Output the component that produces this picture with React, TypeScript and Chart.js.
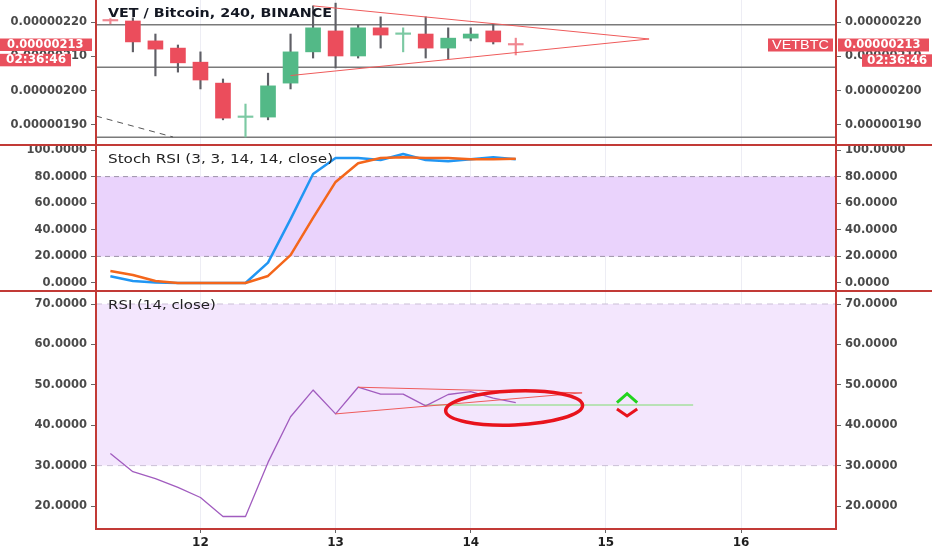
import React, { useEffect, useRef } from 'react';
import { Chart, registerables } from 'chart.js';

Chart.register(...registerables);

// ---------------- data ----------------
// x axis: day of month (240-minute candles)
const X_MIN = 11.227;
const X_MAX = 16.703;
const dayTicks = [12, 13, 14, 15, 16];

const candleTimes = [
  11.3333, 11.5, 11.6667, 11.8333, 12.0, 12.1667, 12.3333, 12.5, 12.6667, 12.8333,
  13.0, 13.1667, 13.3333, 13.5, 13.6667, 13.8333, 14.0, 14.1667, 14.3333,
];
// prices in satoshi (1e-8 BTC)
const opens = [220.4, 220.3, 214.5, 212.4, 208.3, 202.2, 192.2, 192.3, 202.2, 211.3, 217.4, 210.1, 218.3, 216.4, 216.5, 212.4, 215.3, 217.4, 213.5];
const highs = [221.0, 221.2, 216.5, 213.3, 211.3, 203.4, 196.1, 205.1, 216.5, 224.7, 225.5, 219.1, 221.5, 218.3, 221.5, 218.3, 218.3, 219.4, 215.3];
const lows = [219.5, 211.3, 204.3, 205.4, 200.5, 191.5, 186.5, 191.5, 200.5, 209.5, 206.6, 209.5, 212.4, 211.3, 209.5, 209.2, 214.5, 213.6, 210.4];
const closes = [220.3, 214.2, 212.1, 208.1, 203.1, 192.0, 192.3, 201.4, 211.3, 218.3, 210.1, 218.3, 216.2, 216.5, 212.4, 215.3, 216.5, 214.2, 213.3];

const stochK = [5, 1.5, 0.3, 0, 0, 0, 0, 15.3, 48, 82, 94, 94, 92.5, 97, 92.5, 91.5, 93, 94.5, 93];
const stochD = [9, 6, 1.5, 0, 0, 0, 0, 5.3, 21, 49, 76, 90, 94, 94.5, 94, 94, 93, 93, 93.5];
const rsiValues = [33, 28.5, 26.8, 24.6, 22.1, 17.4, 17.4, 30.8, 42.1, 48.7, 42.8, 49.4, 47.7, 47.7, 44.8, 47.6, 48.3, 46.7, 45.6];

const priceTicks = [190, 200, 210, 220];
const stochTicks = [0, 20, 40, 60, 80, 100];
const rsiTicks = [20, 30, 40, 50, 60, 70];
const stochBands = [20, 80];
const rsiBands = [30, 70];

// drawings (data coordinates)
const priceLevels = [219.2, 206.8, 186.4];
const priceTriTop: [number, number][] = [[12.8333, 224.7], [15.32, 215.05]];
const priceTriBottom: [number, number][] = [[12.6667, 204.4], [15.32, 215.05]];
const priceDashed: [number, number][] = [[11.227, 192.6], [11.797, 186.5]];
const rsiTriTop: [number, number][] = [[13.1667, 49.4], [14.824, 48.0]];
const rsiTriBottom: [number, number][] = [[13.0, 42.8], [14.824, 48.0]];
const rsiGreenLevel: [number, number][] = [[13.655, 45.0], [15.646, 45.0]];
const upChevron: [number, number][] = [[15.082, 45.6], [15.157, 47.8], [15.232, 45.6]];
const downChevron: [number, number][] = [[15.082, 44.0], [15.157, 42.3], [15.232, 44.0]];
const rsiEllipse = { x: 14.321, y: 44.26, rx: 0.507, ry: 4.2, rot: -0.04 };

const priceTitle = 'VET / Bitcoin, 240, BINANCE';
const stochTitle = 'Stoch RSI (3, 3, 14, 14, close)';
const rsiTitle = 'RSI (14, close)';
const symbol = 'VETBTC';
const countdown = '02:36:46';
const lastPrice = closes[closes.length - 1];

// ---------------- styling ----------------
const W = 932;
const AXIS_W = 96;
const GREEN = '#53b987';
const RED = '#eb4d5c';
const TAG = '#e9505d';
const BORDER = '#c23a36';
const TICK_FONT = { family: '"DejaVu Sans", sans-serif', weight: 'bold' as const, size: 11.5 };

const pts = (pairs: [number, number][]) => pairs.map(([x, y]) => ({ x, y }));
const hline = (y: number) => [{ x: X_MIN, y }, { x: X_MAX, y }];

function drawText(ctx: CanvasRenderingContext2D, text: string, x: number, y: number, font: string, color: string, align: CanvasTextAlign, sx: number) {
  ctx.save();
  ctx.font = font;
  ctx.fillStyle = color;
  ctx.textBaseline = 'middle';
  ctx.textAlign = align;
  ctx.translate(x, y);
  ctx.scale(sx, 1);
  ctx.fillText(text, 0, 0);
  ctx.restore();
}

function yAxis(pos: 'left' | 'right', min: number, max: number, step: number, fmt: (v: number) => string, ticksList: number[]) {
  return {
    type: 'linear' as const,
    position: pos,
    axis: 'y' as const,
    min,
    max,
    afterFit: (s: any) => {
      s.width = AXIS_W;
      s.paddingTop = 0;
      s.paddingBottom = 0;
    },
    afterBuildTicks: (s: any) => {
      s.ticks = ticksList.map((v) => ({ value: v }));
    },
    border: { display: false },
    grid: { drawOnChartArea: false, drawTicks: true, tickLength: 5, tickColor: '#666', tickWidth: 1 },
    ticks: {
      stepSize: step,
      includeBounds: false,
      autoSkip: false,
      padding: 4,
      color: '#4a4a4a',
      font: TICK_FONT,
      callback: (v: any) => fmt(Number(v)),
    },
  };
}

function xAxis(show: boolean) {
  return {
    type: 'linear' as const,
    position: 'bottom' as const,
    min: X_MIN,
    max: X_MAX,
    offset: false,
    afterFit: (s: any) => {
      s.height = show ? 21 : 0;
      s.paddingLeft = 0;
      s.paddingRight = 0;
    },
    afterBuildTicks: (s: any) => {
      s.ticks = dayTicks.map((v) => ({ value: v }));
    },
    border: { display: false },
    grid: { color: 'rgba(185,185,210,0.25)', drawTicks: show, tickLength: 4, tickColor: '#666', offset: false },
    ticks: {
      display: show,
      stepSize: 1,
      includeBounds: false,
      autoSkip: false,
      maxRotation: 0,
      padding: 3,
      color: '#1e1e1e',
      font: { family: '"DejaVu Sans", sans-serif', weight: 'bold' as const, size: 12 },
      callback: (v: any) => String(v),
    },
  };
}

function baseOptions(scales: any) {
  return {
    responsive: false,
    maintainAspectRatio: false,
    animation: false as const,
    events: [],
    layout: { padding: 0 },
    plugins: { legend: { display: false }, tooltip: { enabled: false } },
    scales,
  };
}

const lineDs = (data: any[], color: string, width: number, order: number, extra: any = {}) => ({
  type: 'line' as const,
  data,
  borderColor: color,
  borderWidth: width,
  pointRadius: 0,
  tension: 0,
  fill: false,
  order,
  borderJoinStyle: 'round' as const,
  ...extra,
});

const fmtPrice = (v: number) => (v / 1e8).toFixed(8);
const fmt4 = (v: number) => v.toFixed(4);

function priceConfig(): any {
  const isUp = closes.map((c, i) => c >= opens[i]);
  const isDoji = closes.map((c, i) => Math.abs(c - opens[i]) < 0.35);
  const bodyColors = isUp.map((u, i) => (isDoji[i] ? (u ? '#7cc9a3' : '#f08791') : u ? GREEN : RED));
  const wickColors = isDoji.map((d, i) => (d ? bodyColors[i] : '#5f5f66'));
  const overlay = {
    id: 'priceOverlay',
    afterDraw(chart: any) {
      const ctx = chart.ctx as CanvasRenderingContext2D;
      const area = chart.chartArea;
      const py = chart.scales.y.getPixelForValue(lastPrice);
      drawText(ctx, priceTitle, area.left + 12, 14, 'bold 13px "DejaVu Sans"', '#131722', 'left', 1.1);
      const tagFont = 'bold 11.5px "DejaVu Sans"';
      ctx.save();
      ctx.fillStyle = TAG;
      ctx.fillRect(0, py - 6.5, 92, 12.5);
      ctx.fillRect(0, py + 8.8, 71, 12.5);
      ctx.fillRect(768, py - 6.5, 65, 13);
      ctx.fillRect(838, py - 6.5, 91, 13);
      ctx.fillRect(862, py + 9.3, 70, 12.5);
      ctx.restore();
      const priceText = fmtPrice(lastPrice);
      drawText(ctx, priceText, 7, py, tagFont, '#fff', 'left', 1);
      drawText(ctx, countdown, 6, py + 15.2, tagFont, '#fff', 'left', 1.05);
      drawText(ctx, symbol, 800.5, py + 0.2, '12px "Liberation Sans"', '#fff', 'center', 1.2);
      drawText(ctx, priceText, 844, py + 0.2, tagFont, '#fff', 'left', 1);
      drawText(ctx, countdown, 867, py + 15.6, tagFont, '#fff', 'left', 1.05);
    },
  };
  return {
    type: 'line',
    data: {
      datasets: [
        ...priceLevels.map((lv) => lineDs(hline(lv), '#7a7a7a', 1.5, 8)),
        lineDs(pts(priceTriTop), '#ef5b5b', 1, 0),
        lineDs(pts(priceTriBottom), '#ef5b5b', 1, 0),
        lineDs(pts(priceDashed), '#555', 1, 0, { borderDash: [6, 5] }),
        {
          type: 'bar',
          data: candleTimes.map((t, i) => ({ x: t, y: [lows[i], highs[i]] })),
          backgroundColor: wickColors,
          barThickness: 1.5,
          grouped: false,
          minBarLength: 1,
          order: 3,
        },
        {
          type: 'bar',
          data: candleTimes.map((t, i) => ({ x: t, y: [opens[i], closes[i]] })),
          backgroundColor: bodyColors,
          barThickness: 15,
          grouped: false,
          minBarLength: 1.5,
          order: 2,
        },
      ],
    },
    options: baseOptions({
      x: xAxis(false),
      y: yAxis('left', 184.17, 226.41, 10, fmtPrice, priceTicks),
      yR: yAxis('right', 184.17, 226.41, 10, fmtPrice, priceTicks),
    }),
    plugins: [overlay],
  };
}

function stochConfig(): any {
  const overlay = {
    id: 'stochOverlay',
    afterDraw(chart: any) {
      const area = chart.chartArea;
      drawText(chart.ctx, stochTitle, area.left + 12, 15, '13px "DejaVu Sans"', '#222', 'left', 1.17);
    },
  };
  return {
    type: 'line',
    data: {
      datasets: [
        lineDs(hline(stochBands[1]), '#9d93a8', 1, 10, { borderDash: [5, 4] }),
        lineDs(hline(stochBands[0]), '#9d93a8', 1, 11, { borderDash: [5, 4], fill: '-1', backgroundColor: '#ead3fc' }),
        lineDs(candleTimes.map((t, i) => ({ x: t, y: stochD[i] })), '#f4661b', 2.5, 2),
        lineDs(candleTimes.map((t, i) => ({ x: t, y: stochK[i] })), '#2196f3', 2.5, 3),
      ],
    },
    options: baseOptions({
      x: xAxis(false),
      y: yAxis('left', -6.02, 103.76, 20, fmt4, stochTicks),
      yR: yAxis('right', -6.02, 103.76, 20, fmt4, stochTicks),
    }),
    plugins: [overlay],
  };
}

function rsiConfig(): any {
  const overlay = {
    id: 'rsiOverlay',
    afterDatasetsDraw(chart: any) {
      const ctx = chart.ctx as CanvasRenderingContext2D;
      const area = chart.chartArea;
      const xs = chart.scales.x;
      const ys = chart.scales.y;
      const cx = xs.getPixelForValue(rsiEllipse.x);
      const cy = ys.getPixelForValue(rsiEllipse.y);
      const rx = Math.abs(xs.getPixelForValue(rsiEllipse.x + rsiEllipse.rx) - cx);
      const ry = Math.abs(ys.getPixelForValue(rsiEllipse.y + rsiEllipse.ry) - cy);
      ctx.save();
      ctx.beginPath();
      ctx.rect(area.left, area.top, area.right - area.left, area.bottom - area.top);
      ctx.clip();
      ctx.beginPath();
      ctx.ellipse(cx, cy, rx, ry, rsiEllipse.rot, 0, Math.PI * 2);
      ctx.strokeStyle = '#e8131c';
      ctx.lineWidth = 3.5;
      ctx.stroke();
      ctx.restore();
    },
    afterDraw(chart: any) {
      const area = chart.chartArea;
      drawText(chart.ctx, rsiTitle, area.left + 12, 15, '13px "DejaVu Sans"', '#222', 'left', 1.15);
    },
  };
  return {
    type: 'line',
    data: {
      datasets: [
        lineDs(hline(rsiBands[1]), '#cbbfd6', 1, 10, { borderDash: [6, 5] }),
        lineDs(hline(rsiBands[0]), '#cbbfd6', 1, 11, { borderDash: [6, 5], fill: '-1', backgroundColor: '#f3e6fd' }),
        lineDs(pts(rsiGreenLevel), '#7fdc70', 1, 5),
        lineDs(candleTimes.map((t, i) => ({ x: t, y: rsiValues[i] })), '#a15cbf', 1.3, 3),
        lineDs(pts(rsiTriTop), '#ef5b5b', 1, 2),
        lineDs(pts(rsiTriBottom), '#ef5b5b', 1, 2),
        lineDs(pts(upChevron), '#22d41e', 3, 1, { borderJoinStyle: 'miter' }),
        lineDs(pts(downChevron), '#e8131c', 3, 1, { borderJoinStyle: 'miter' }),
      ],
    },
    options: baseOptions({
      x: xAxis(true),
      y: yAxis('left', 14.31, 73.22, 10, fmt4, rsiTicks),
      yR: yAxis('right', 14.31, 73.22, 10, fmt4, rsiTicks),
    }),
    plugins: [overlay],
  };
}

export default function App() {
  const priceRef = useRef<HTMLCanvasElement>(null);
  const stochRef = useRef<HTMLCanvasElement>(null);
  const rsiRef = useRef<HTMLCanvasElement>(null);

  useEffect(() => {
    const charts = [
      new Chart(priceRef.current!, priceConfig()),
      new Chart(stochRef.current!, stochConfig()),
      new Chart(rsiRef.current!, rsiConfig()),
    ];
    return () => charts.forEach((c) => c.destroy());
  }, []);

  const abs = (top: number): React.CSSProperties => ({ position: 'absolute', left: 0, top, display: 'block' });
  const line = (left: number, top: number, width: number, height: number): React.CSSProperties => ({
    position: 'absolute', left, top, width, height, background: BORDER,
  });

  return (
    <div style={{ position: 'fixed', left: 0, top: 0, width: W, height: 550, background: '#fff', overflow: 'hidden' }}>
      <canvas ref={priceRef} width={W} height={145} style={abs(0)} />
      <canvas ref={stochRef} width={W} height={146} style={abs(145)} />
      <canvas ref={rsiRef} width={W} height={259} style={abs(291)} />
      <div style={line(0, 144, W, 2)} />
      <div style={line(0, 290, W, 2)} />
      <div style={line(95, 0, 2, 530)} />
      <div style={line(835, 0, 2, 530)} />
      <div style={line(95, 528, 742, 2)} />
    </div>
  );
}
